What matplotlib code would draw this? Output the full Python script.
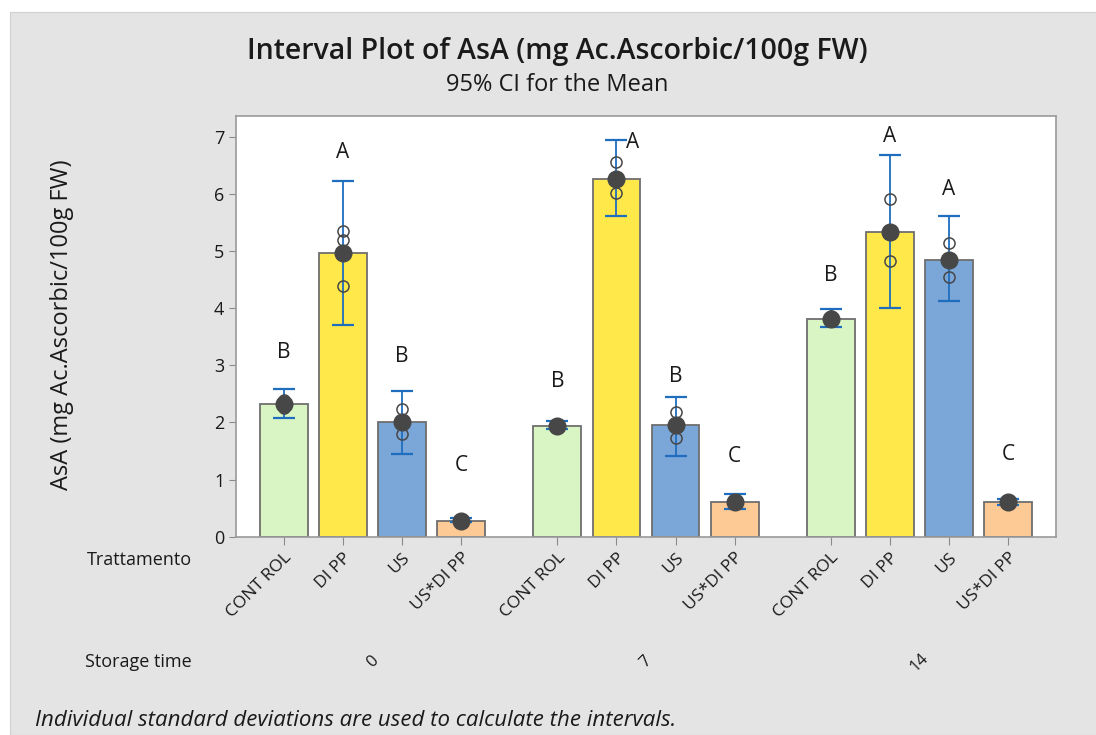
import numpy as np
import matplotlib
matplotlib.use("Agg")
import matplotlib.pyplot as plt
from matplotlib.patches import Rectangle

plt.rcParams['font.family'] = ['Open Sans', 'DejaVu Sans']

# data
storage = ["0", "7", "14"]
treatments = ["CONTROL", "DIPP", "US", "US*DIPP"]
tick_labels = ["CONT ROL", "DI PP", "US", "US*DI PP"]
means = [
    [2.32, 4.97, 2.01, 0.28],
    [1.94, 6.27, 1.95, 0.61],
    [3.81, 5.34, 4.85, 0.60],
]
ci_low = [
    [2.07, 3.71, 1.45, 0.25],
    [1.88, 5.61, 1.41, 0.49],
    [3.67, 4.01, 4.12, 0.55],
]
ci_high = [
    [2.59, 6.22, 2.55, 0.32],
    [2.02, 6.95, 2.45, 0.75],
    [3.98, 6.68, 5.61, 0.66],
]
obs = [
    [[2.40, 2.30, 2.26], [5.35, 5.20, 4.38], [2.24, 2.00, 1.79], [0.30, 0.28, 0.27]],
    [[1.97, 1.94, 1.91], [6.56, 6.22, 6.02], [2.19, 1.93, 1.73], [0.65, 0.60, 0.58]],
    [[3.86, 3.80, 3.77], [5.91, 5.30, 4.82], [5.15, 4.85, 4.55], [0.62, 0.60, 0.58]],
]
letters = [
    ["B", "A", "B", "C"],
    ["B", "A", "B", "C"],
    ["B", "A", "A", "C"],
]
letter_y = [
    [3.22, 6.73, 3.15, 1.24],
    [2.72, 6.90, 2.81, 1.41],
    [4.57, 7.00, 6.08, 1.44],
]

colors = ["#daf5c4", "#ffe94a", "#7ba6d8", "#fdca95"]
edge = "#6e6e6e"
err_col = "#1f6dbf"
dot_col = "#474747"
txt = "#1a1a1a"

fig = plt.figure(figsize=(10.96, 7.35), dpi=100)
fig.patch.set_facecolor("white")
fig.patches.append(Rectangle((10 / 1096, 0), 1, 1 - 12 / 735, transform=fig.transFigure,
                             facecolor="#e4e4e4", edgecolor="#d0d0d0", lw=0.8, zorder=-10))

ax = fig.add_axes([236 / 1096, 1 - 536.7 / 735, 820 / 1096, 421 / 735])
ax.set_facecolor("white")

gap = 4.63
width = 0.81
positions = []
for g in range(len(storage)):
    for i in range(len(treatments)):
        x = g * gap + i
        positions.append(x)
        ax.bar(x, means[g][i], width=width, color=colors[i], edgecolor=edge, lw=1.3, zorder=2)
        ax.errorbar(x, means[g][i],
                    yerr=[[means[g][i] - ci_low[g][i]], [ci_high[g][i] - means[g][i]]],
                    fmt="none", ecolor=err_col, elinewidth=1.3, capsize=8, capthick=1.6, zorder=3)
        ax.plot([x] * len(obs[g][i]), obs[g][i], "o", ms=8, mfc="none", mec=dot_col, mew=1.1, zorder=4)
        ax.plot(x, means[g][i], "o", ms=12, color=dot_col, zorder=5)
        dx = 0.28 if (letters[g][i] == "A" and ci_high[g][i] > 6.9) else 0
        ax.text(x + dx, letter_y[g][i], letters[g][i], ha="center", va="center",
                fontsize=15, color=txt, zorder=6)

ax.set_xlim(-0.81, 2 * gap + 3 + 0.81)
ax.set_ylim(0, 7.37)
ax.set_yticks(range(8))
ax.set_xticks(positions)
ax.set_xticklabels(tick_labels * len(storage), rotation=45, ha="right", va="top",
                   rotation_mode="anchor", fontsize=12.5)
ax.tick_params(axis="y", labelsize=13, colors="#8a8a8a", labelcolor=txt, length=5)
ax.tick_params(axis="x", colors="#8a8a8a", labelcolor=txt, length=6)
for s in ax.spines.values():
    s.set_color("#9a9a9a")
    s.set_linewidth(1.2)

fig.text(62 / 1096, 1 - 325 / 735, "AsA (mg Ac.Ascorbic/100g FW)", rotation=90,
         ha="center", va="center", fontsize=17, color=txt)

fig.text(557 / 1096, 1 - 52 / 735, "Interval Plot of AsA (mg Ac.Ascorbic/100g FW)",
         ha="center", va="center", fontsize=20.5, fontweight="semibold", color=txt)
fig.text(557 / 1096, 1 - 85 / 735, "95% CI for the Mean", ha="center", va="center",
         fontsize=17, color=txt)

fig.text(192 / 1096, 1 - 560 / 735, "Trattamento", ha="right", va="center", fontsize=13, color=txt)
fig.text(192 / 1096, 1 - 662 / 735, "Storage time", ha="right", va="center", fontsize=13, color=txt)
for g, lab in enumerate(storage):
    xc = g * gap + 1.5
    xf = fig.transFigure.inverted().transform(ax.transData.transform((xc, 0)))[0]
    fig.text(xf, 1 - 662 / 735, lab, ha="center", va="center", rotation=45, fontsize=12, color=txt)

fig.text(35 / 1096, 1 - 720 / 735, "Individual standard deviations are used to calculate the intervals.",
         ha="left", va="center", fontsize=16, style="italic", color=txt)

fig.savefig("out.png", dpi=100)
